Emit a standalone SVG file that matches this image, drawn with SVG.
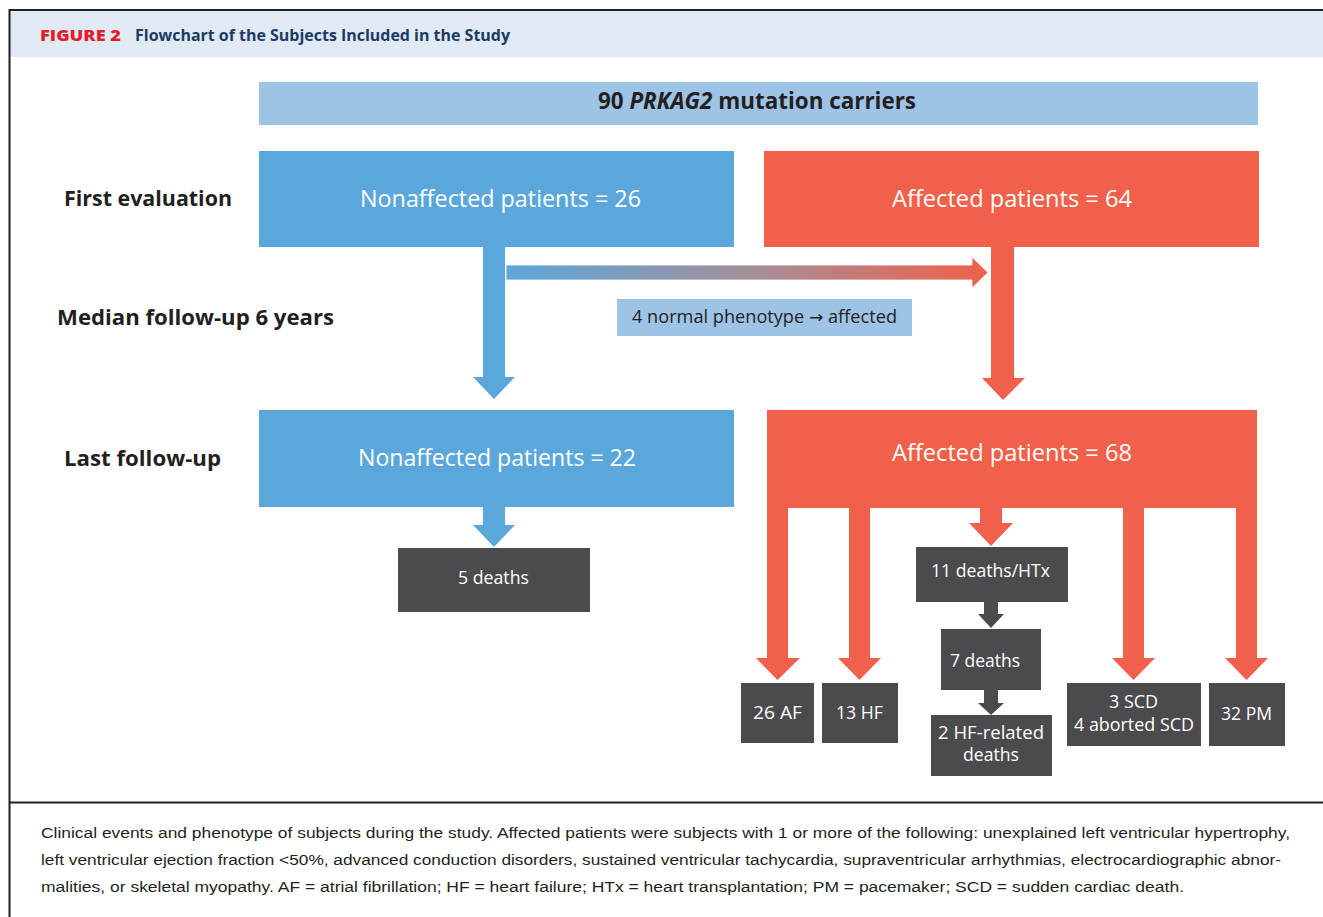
<svg xmlns="http://www.w3.org/2000/svg" width="1323" height="917" viewBox="0 0 1323 917">
<defs>
<style>
.t{font-family:"Open Sans","Noto Sans","Liberation Sans",sans-serif;}
.w{fill:#ffffff;font-size:23px;}
.wb{fill:#ffffff;font-size:18px;}
.lab{fill:#231F20;font-size:22px;font-weight:bold;}
.cap{fill:#231F20;font-size:15.5px;font-family:"Liberation Sans","Open Sans",sans-serif;}
.blue{fill:#5BA7DB;}
.lblue{fill:#9DC3E6;}
.red{fill:#F0604A;}
.dark{fill:#4B4B4D;}
</style>
<linearGradient id="grad" x1="506" y1="0" x2="988" y2="0" gradientUnits="userSpaceOnUse">
<stop offset="0" stop-color="#5BA7DB"/>
<stop offset="0.5" stop-color="#A3909B"/>
<stop offset="1" stop-color="#F0604A"/>
</linearGradient>
</defs>
<rect x="0" y="0" width="1323" height="917" fill="#ffffff"/>
<!-- frame -->
<g id="frame">
<rect x="10" y="11" width="1313" height="46" fill="#DFEAF5"/>
<line x1="9" y1="10" x2="1323" y2="10" stroke="#231F20" stroke-width="2"/>
<line x1="9.5" y1="9" x2="9.5" y2="917" stroke="#231F20" stroke-width="2"/>
<line x1="9" y1="802.5" x2="1323" y2="802.5" stroke="#231F20" stroke-width="2"/>
<text class="t" x="40" y="41" font-size="15" font-weight="800" fill="#E31E2B" textLength="81" lengthAdjust="spacingAndGlyphs">FIGURE 2</text>
<text class="t" x="135" y="41" font-size="16" font-weight="bold" fill="#1E3A64" textLength="375" lengthAdjust="spacingAndGlyphs">Flowchart of the Subjects Included in the Study</text>
</g>
<!-- row labels -->
<g id="labels">
<text class="t lab" x="64" y="206" textLength="168" lengthAdjust="spacingAndGlyphs">First evaluation</text>
<text class="t lab" x="57" y="325" textLength="277" lengthAdjust="spacingAndGlyphs">Median follow-up 6 years</text>
<text class="t lab" x="64" y="466" textLength="157" lengthAdjust="spacingAndGlyphs">Last follow-up</text>
</g>
<!-- connectors -->
<g id="connectors">
<polygon class="blue" points="483,247 505,247 505,377 515,377 494,399 473,377 483,377"/>
<polygon class="red" points="991,247 1014,247 1014,378 1025,378 1003,400 982,378 991,378"/>
<polygon fill="url(#grad)" stroke="#ffffff" stroke-width="0.8" points="506,265 972,265 972,257 988,272.5 972,288 972,280 506,280"/>
<polygon class="blue" points="483,507 505,507 505,525 515,525 494,547 473,525 483,525"/>
<polygon class="red" points="767,507 788,507 788,658 800,658 777.5,680 756,658 767,658"/>
<polygon class="red" points="849,507 870,507 870,658 881,658 859.5,680 838,658 849,658"/>
<polygon class="red" points="980,507 1002,507 1002,523 1013,523 991,546 969,523 980,523"/>
<polygon class="red" points="1123,507 1144,507 1144,658 1155,658 1133.5,680 1112,658 1123,658"/>
<polygon class="red" points="1236,507 1257,507 1257,658 1268,658 1246.5,680 1225,658 1236,658"/>
<polygon class="dark" points="984,601 998,601 998,614 1004,614 991,628 978,614 984,614"/>
<polygon class="dark" points="984,690 998,690 998,703 1004,703 991,715 978,703 984,703"/>
</g>
<!-- nodes -->
<g id="n-carriers">
<rect class="lblue" x="259" y="82" width="999" height="43"/>
<text class="t" x="757" y="109" font-size="23" font-weight="bold" fill="#231F20" text-anchor="middle" textLength="318" lengthAdjust="spacingAndGlyphs">90 <tspan font-style="italic">PRKAG2</tspan> mutation carriers</text>
</g>
<g id="n-nonaff-first">
<rect class="blue" x="259" y="151" width="475" height="96"/>
<text class="t w" x="500.5" y="207" text-anchor="middle" textLength="281" lengthAdjust="spacingAndGlyphs">Nonaffected patients = 26</text>
</g>
<g id="n-aff-first">
<rect class="red" x="764" y="151" width="495" height="96"/>
<text class="t w" x="1012" y="207" text-anchor="middle" textLength="240" lengthAdjust="spacingAndGlyphs">Affected patients = 64</text>
</g>
<g id="n-converted">
<rect class="lblue" x="617" y="299" width="295" height="37"/>
<text class="t" x="764.5" y="323" font-size="18" fill="#231F20" text-anchor="middle" textLength="265" lengthAdjust="spacingAndGlyphs">4 normal phenotype <tspan font-family="DejaVu Sans, sans-serif" font-size="17">→</tspan> affected</text>
</g>
<g id="n-nonaff-last">
<rect class="blue" x="259" y="410" width="475" height="97"/>
<text class="t w" x="497" y="466" text-anchor="middle" textLength="278" lengthAdjust="spacingAndGlyphs">Nonaffected patients = 22</text>
</g>
<g id="n-aff-last">
<rect class="red" x="767" y="410" width="490" height="98"/>
<text class="t w" x="1012" y="461" text-anchor="middle" textLength="240" lengthAdjust="spacingAndGlyphs">Affected patients = 68</text>
</g>
<g id="n-5deaths">
<rect class="dark" x="398" y="548" width="192" height="64"/>
<text class="t wb" x="493.5" y="584" text-anchor="middle" textLength="71" lengthAdjust="spacingAndGlyphs">5 deaths</text>
</g>
<g id="n-11deaths">
<rect class="dark" x="916" y="547" width="152" height="55"/>
<text class="t wb" x="990.5" y="577" text-anchor="middle" textLength="119" lengthAdjust="spacingAndGlyphs">11 deaths/HTx</text>
</g>
<g id="n-7deaths">
<rect class="dark" x="941" y="629" width="100" height="61"/>
<text class="t wb" x="985" y="667" text-anchor="middle" textLength="70" lengthAdjust="spacingAndGlyphs">7 deaths</text>
</g>
<g id="n-2hf">
<rect class="dark" x="931" y="715" width="121" height="61"/>
<text class="t wb" x="991" y="739" text-anchor="middle" textLength="106" lengthAdjust="spacingAndGlyphs">2 HF-related</text>
<text class="t wb" x="991" y="761" text-anchor="middle" textLength="56" lengthAdjust="spacingAndGlyphs">deaths</text>
</g>
<g id="n-af">
<rect class="dark" x="741" y="683" width="73" height="60"/>
<text class="t wb" x="777.5" y="719" text-anchor="middle" textLength="49" lengthAdjust="spacingAndGlyphs">26 AF</text>
</g>
<g id="n-hf">
<rect class="dark" x="822" y="683" width="76" height="60"/>
<text class="t wb" x="859.5" y="719" text-anchor="middle" textLength="47" lengthAdjust="spacingAndGlyphs">13 HF</text>
</g>
<g id="n-scd">
<rect class="dark" x="1067" y="683" width="134" height="63"/>
<text class="t wb" x="1133.5" y="708" text-anchor="middle" textLength="49" lengthAdjust="spacingAndGlyphs">3 SCD</text>
<text class="t wb" x="1134" y="731" text-anchor="middle" textLength="120" lengthAdjust="spacingAndGlyphs">4 aborted SCD</text>
</g>
<g id="n-pm">
<rect class="dark" x="1209" y="683" width="76" height="63"/>
<text class="t wb" x="1246.5" y="720" text-anchor="middle" textLength="51" lengthAdjust="spacingAndGlyphs">32 PM</text>
</g>
<!-- caption -->
<g id="caption">
<text class="cap" x="41" y="838" textLength="1249" lengthAdjust="spacingAndGlyphs">Clinical events and phenotype of subjects during the study. Affected patients were subjects with 1 or more of the following: unexplained left ventricular hypertrophy,</text>
<text class="cap" x="41" y="865" textLength="1240" lengthAdjust="spacingAndGlyphs">left ventricular ejection fraction &lt;50%, advanced conduction disorders, sustained ventricular tachycardia, supraventricular arrhythmias, electrocardiographic abnor-</text>
<text class="cap" x="41" y="892" textLength="1143" lengthAdjust="spacingAndGlyphs">malities, or skeletal myopathy. AF = atrial fibrillation; HF = heart failure; HTx = heart transplantation; PM = pacemaker; SCD = sudden cardiac death.</text>
</g>
</svg>
